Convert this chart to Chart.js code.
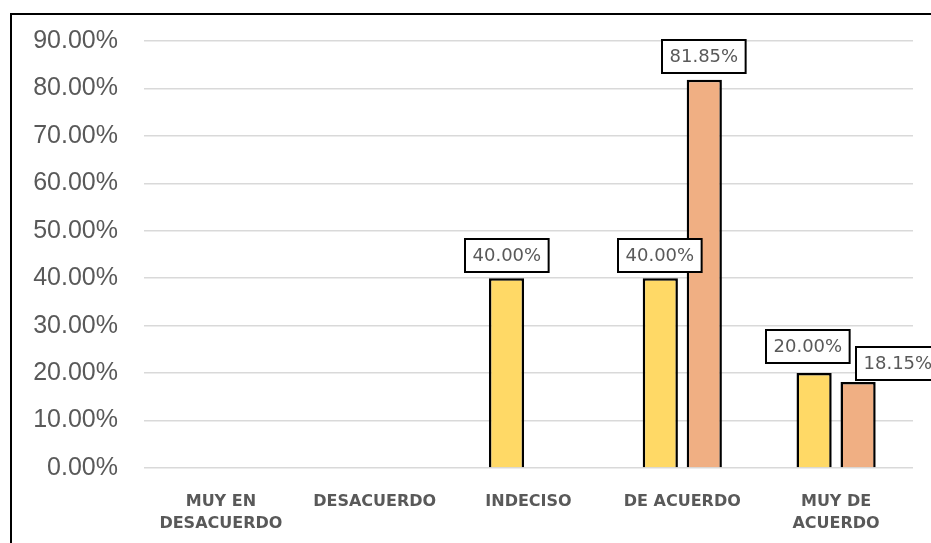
<!DOCTYPE html>
<html>
<head>
<meta charset="utf-8">
<script src="https://cdn.jsdelivr.net/npm/chart.js@4/dist/chart.umd.min.js"></script>
<style>
  html, body { margin: 0; padding: 0; background: #fff; overflow: hidden; }
  #wrap { position: relative; width: 931px; height: 543px; overflow: hidden; }
  #frame { position: absolute; left: 10px; top: 13px; width: 990px; height: 620px;
           border: 2px solid #000; pointer-events: none; }
  canvas { position: absolute; left: 0; top: 0; }
</style>
</head>
<body>
<div id="wrap">
  <canvas id="bar-chart" width="931" height="543"></canvas>
  <div id="frame"></div>
</div>
<script>
// categories (wrapped like the original axis)
var categories = [
  ['MUY EN', 'DESACUERDO'],
  'DESACUERDO',
  'INDECISO',
  'DE ACUERDO',
  ['MUY DE', 'ACUERDO']
];
// two series, percent
var seriesA = [null, null, 40.00, 40.00, 20.00];
var seriesB = [null, null, null, 81.85, 18.15];
var yTicks = [0, 10, 20, 30, 40, 50, 60, 70, 80, 90];

// nudges for labels that excel moved to avoid overlap
var labelNudge = { '0-4': [-6.5, -3.5], '1-4': [39.5, 4.5] };

// boxed value labels drawn on top of the bars
var boxLabels = {
  id: 'boxLabels',
  afterDatasetsDraw: function(chart) {
    var ctx = chart.ctx;
    ctx.save();
    ctx.font = '18px "DejaVu Sans"';
    ctx.textAlign = 'center';
    ctx.textBaseline = 'middle';
    chart.data.datasets.forEach(function(ds, di) {
      var meta = chart.getDatasetMeta(di);
      meta.data.forEach(function(bar, i) {
        var v = ds.data[i];
        if (v === null || v === undefined) return;
        var txt = v.toFixed(2) + '%';
        var w = ctx.measureText(txt).width + 15;
        var h = 33;
        var n = labelNudge[di + '-' + i] || [0, 0];
        var cx = bar.x + n[0];
        var bottom = bar.y - 6.5 + n[1];
        var left = Math.round(cx - w / 2);
        var top = Math.round(bottom - h);
        ctx.fillStyle = '#fff';
        ctx.fillRect(left, top, w, h);
        ctx.lineWidth = 2;
        ctx.strokeStyle = '#000';
        ctx.strokeRect(left, top, w, h);
        ctx.fillStyle = '#595959';
        ctx.fillText(txt, left + w / 2, top + h / 2 + 1);
      });
    });
    ctx.restore();
  }
};

var chart = new Chart(document.getElementById('bar-chart'), {
  type: 'bar',
  data: {
    labels: categories,
    datasets: [
      {
        data: seriesA,
        backgroundColor: '#FFD966',
        borderColor: '#000',
        borderWidth: 2.5,
        categoryPercentage: 0.572,
        barPercentage: 0.8
      },
      {
        data: seriesB,
        backgroundColor: '#F0AF83',
        borderColor: '#000',
        borderWidth: 2.5,
        categoryPercentage: 0.572,
        barPercentage: 0.8
      }
    ]
  },
  options: {
    responsive: false,
    animation: false,
    devicePixelRatio: 1,
    layout: { padding: { top: 40, right: 18, left: 0, bottom: 0 } },
    plugins: {
      legend: { display: false },
      tooltip: { enabled: false }
    },
    scales: {
      x: {
        grid: { display: false },
        border: { display: false },
        ticks: {
          color: '#595959',
          font: { family: 'DejaVu Sans', size: 16, weight: 'bold', lineHeight: 1.375 },
          padding: 15,
          maxRotation: 0,
          autoSkip: false
        },
        afterFit: function(scale) { scale.height = 75; }
      },
      y: {
        min: 0,
        max: 90,
        afterBuildTicks: function(scale) {
          scale.ticks = yTicks.map(function(v) { return { value: v }; });
        },
        grid: { color: '#d9d9d9', lineWidth: 1.5, drawTicks: false },
        border: { display: false },
        ticks: {
          color: '#595959',
          font: { family: 'Liberation Sans', size: 25 },
          padding: 26,
          callback: function(v) { return Number(v).toFixed(2) + '%'; }
        },
        afterFit: function(scale) { scale.width = 144; }
      }
    }
  },
  plugins: [boxLabels]
});
</script>
</body>
</html>
